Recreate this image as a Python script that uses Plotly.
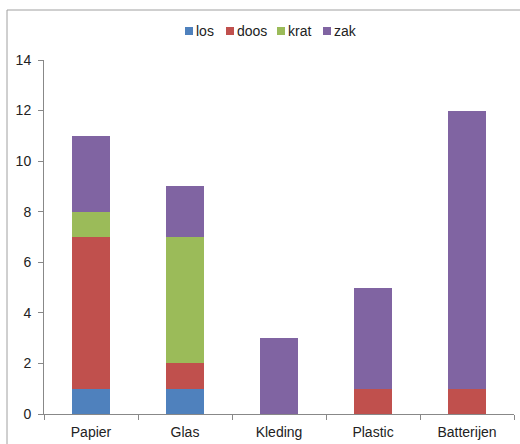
import plotly.graph_objects as go

categories = ["Papier", "Glas", "Kleding", "Plastic", "Batterijen"]
los = [1, 1, 0, 0, 0]
doos = [6, 1, 0, 1, 1]
krat = [1, 5, 0, 0, 0]
zak = [3, 2, 3, 4, 11]
y_ticks = [0, 2, 4, 6, 8, 10, 12, 14]

series_names = ["los", "doos", "krat", "zak"]
series_values = [los, doos, krat, zak]
series_colors = ["#4F81BD", "#C0504D", "#9BBB59", "#8064A2"]

L, R, T, B = 44, 514, 60, 414
W, H = R - L, B - T


def px(x):
    return (x - L) / W


def py(y):
    return (B - y) / H


fig = go.Figure()
for name, vals, color in zip(series_names, series_values, series_colors):
    fig.add_trace(go.Bar(x=categories, y=vals, name=name, marker_color=color,
                         marker_line_width=0, width=0.4, showlegend=False))

shapes = [dict(type="rect", xref="paper", yref="paper",
               x0=px(7), x1=px(560), y0=py(480), y1=py(10),
               line=dict(color="#a0a0a0", width=1), fillcolor="rgba(0,0,0,0)")]
annotations = []
legend_x = [185, 226, 277, 323]
for name, color, lx in zip(series_names, series_colors, legend_x):
    shapes.append(dict(type="rect", xref="paper", yref="paper",
                       x0=px(lx), x1=px(lx + 8), y0=py(35), y1=py(27),
                       line=dict(width=0), fillcolor=color))
    annotations.append(dict(text=name, xref="paper", yref="paper",
                            x=px(lx + 9), y=py(31), xanchor="left", yanchor="middle",
                            showarrow=False, font=dict(size=14, color="#222")))

fig.update_layout(
    barmode="stack",
    width=520, height=444,
    margin=dict(l=L, r=520 - R, t=T, b=444 - B, autoexpand=False),
    paper_bgcolor="white", plot_bgcolor="white",
    font=dict(family="Liberation Sans, Arial, sans-serif", size=14, color="#222"),
    showlegend=False,
    xaxis=dict(showline=True, linecolor="#888", linewidth=1, ticks="outside",
               tickson="boundaries", ticklen=5, tickcolor="#888", showgrid=False,
               automargin=False, ticklabelstandoff=5),
    yaxis=dict(range=[0, 14], tickvals=y_ticks, showline=True, linecolor="#888",
               linewidth=1, ticks="outside", ticklen=5, tickcolor="#888",
               showgrid=False, zeroline=False, automargin=False, ticklabelstandoff=4),
    shapes=shapes,
    annotations=annotations,
)

fig.write_html("out.html", config={"displayModeBar": False},
               post_script="document.body.style.margin='0';document.body.style.overflow='hidden';")
